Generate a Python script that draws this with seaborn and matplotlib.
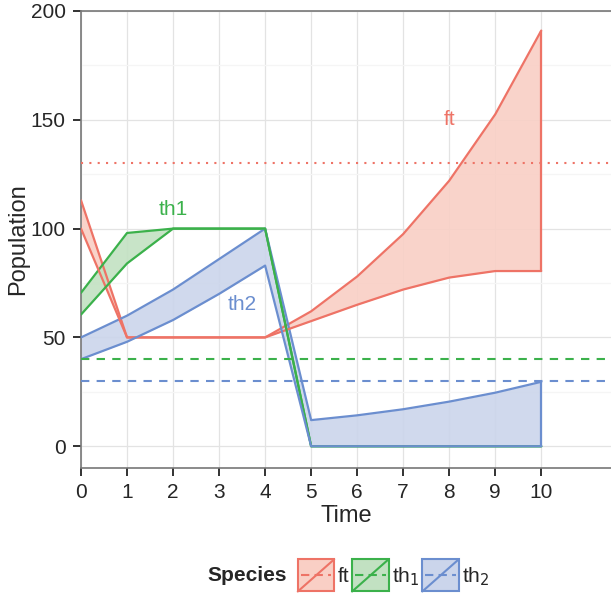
import numpy as np
import pandas as pd
import matplotlib
matplotlib.use("Agg")
import matplotlib.pyplot as plt
import seaborn as sb
from matplotlib.legend_handler import HandlerBase
from matplotlib.patches import Rectangle
from matplotlib.lines import Line2D
from matplotlib.offsetbox import HPacker

time = [0, 1, 2, 3, 4, 5, 6, 7, 8, 9, 10]
species = ["ft", "th1", "th2"]
ft_upper = [113, 50, 50, 50, 50, 62, 78, 97.5, 122, 152.5, 191]
ft_lower = [100, 50, 50, 50, 50, 57.5, 65, 72, 77.5, 80.5, 80.5]
th1_upper = [70.5, 98, 100, 100, 100, 0, 0, 0, 0, 0, 0]
th1_lower = [60.5, 84, 100, 100, 100, 0, 0, 0, 0, 0, 0]
th2_upper = [50, 60, 72, 86, 100, 12, 14.2, 17, 20.5, 24.6, 29.6]
th2_lower = [40, 48, 58, 70, 83, 0, 0, 0, 0, 0, 0]
thresholds = {"ft": 130, "th1": 40, "th2": 30}
labels = {"ft": (8, 150, "ft"), "th1": (2, 109, "th1"), "th2": (3.5, 65, "th2")}
legend_names = ["ft", "th$_1$", "th$_2$"]

colors = {"ft": "#EE7366", "th1": "#3BB14B", "th2": "#6B8ECF"}
fills = {"ft": "#F9CFC5", "th1": "#C2E1C2", "th2": "#CBD5EB"}
styles = {"ft": (0, (1, 3)), "th1": (0, (4, 3.5)), "th2": (0, (4, 3.5))}

df = pd.DataFrame({
    "time": time * 3,
    "species": sum([[s] * len(time) for s in species], []),
    "upper": ft_upper + th1_upper + th2_upper,
    "lower": ft_lower + th1_lower + th2_lower,
})

sb.set_style("white")
plt.rcParams["font.family"] = ["Liberation Sans", "DejaVu Sans"]

fig = plt.figure(figsize=(6.11, 6.0), dpi=100)
ax = fig.add_axes([0.1326, 0.22, 0.87, 0.7617])

# ribbons, green first so blue sits on top at zero
for s in species:
    d = df[df["species"] == s]
    ax.fill_between(d["time"], d["lower"], d["upper"], color=fills[s], alpha=0.9, lw=0, zorder=2)
sb.lineplot(data=df, x="time", y="upper", hue="species", palette=colors, legend=False,
            lw=1.6, ax=ax, zorder=3)
sb.lineplot(data=df, x="time", y="lower", hue="species", palette=colors, legend=False,
            lw=1.6, ax=ax, zorder=3)
# closing edge at time 10
for s in species:
    d = df[(df["species"] == s) & (df["time"] == time[-1])]
    ax.vlines(d["time"], d["lower"], d["upper"], color=colors[s], lw=1.6, zorder=3)

for s in species:
    ax.axhline(thresholds[s], color=colors[s], ls=styles[s], lw=1.5, zorder=3)
    lx, ly, txt = labels[s]
    ax.text(lx, ly, txt, color=colors[s], fontsize=15, ha="center", va="center")

ax.set_xlim(0, 11.55)
ax.set_ylim(-10, 200)
ax.set_xticks(range(0, 11))
ax.set_yticks([0, 50, 100, 150, 200])
ax.set_yticks([25, 75, 125, 175], minor=True)
ax.grid(True, which="major", color="#E3E3E3", lw=0.9)
ax.grid(True, which="minor", axis="y", color="#F5F5F5", lw=0.9)
ax.set_axisbelow(True)
ax.tick_params(axis="both", which="major", direction="out", length=6, width=1.3,
               color="#222222", labelsize=15, left=True, bottom=True, pad=5)
ax.tick_params(axis="y", which="minor", length=0)
for side in ["left", "top", "bottom"]:
    ax.spines[side].set_color("#777777")
    ax.spines[side].set_linewidth(1.2)
ax.spines["right"].set_visible(False)
ax.set_xlabel("Time", fontsize=17, labelpad=2)
ax.set_ylabel("Population", fontsize=17, labelpad=1)


class RibbonKey(HandlerBase):
    def create_artists(self, legend, orig, xd, yd, w, h, fontsize, trans):
        s = orig.get_label()
        x0, y0 = -xd, -yd
        rect = Rectangle((x0, y0), w, h, facecolor=fills[s], edgecolor=colors[s], lw=1.5, transform=trans)
        diag = Line2D([x0, x0 + w], [y0, y0 + h], color=colors[s], lw=1.5, transform=trans)
        dash = Line2D([x0 + 2, x0 + w - 2], [y0 + h / 2, y0 + h / 2], color=colors[s], lw=1.5,
                      ls=(0, (4, 2.5)), transform=trans)
        return [rect, diag, dash]


handles = [Line2D([], [], label=s) for s in species]
leg = fig.legend(handles, legend_names, loc="center", bbox_to_anchor=(0.57, 0.041), ncol=3,
                 frameon=False, fontsize=15, handler_map={Line2D: RibbonKey()},
                 handlelength=1.75, handleheight=2.0, handletextpad=0.15, columnspacing=0.15,
                 title="Species", title_fontproperties={"weight": "bold", "size": 15})
# put title to the left of the entries
title_box = leg._legend_title_box
body = leg._legend_handle_box
leg._legend_box._children = [HPacker(pad=0, sep=8, align="center", children=[title_box, body])]

fig.savefig("out.png", dpi=100)
